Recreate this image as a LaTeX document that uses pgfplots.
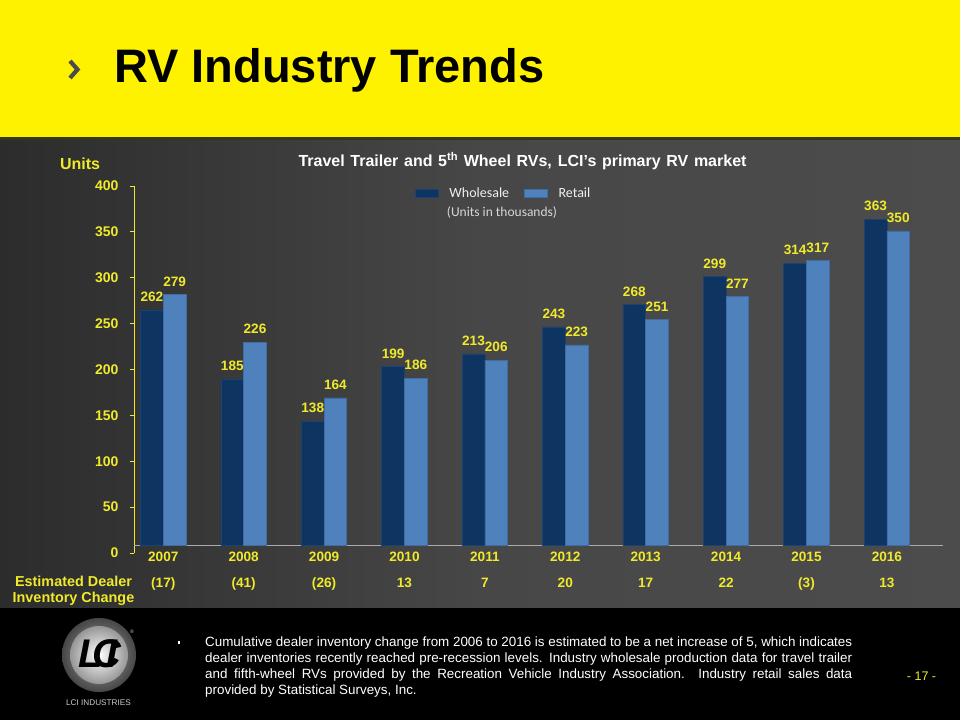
\documentclass[border=0pt]{standalone}
\usepackage{fontspec}
\setmainfont{Liberation Sans}
\newfontfamily\carlito{Carlito}
\usepackage{pgfplots}
\pgfplotsset{compat=1.18}
\definecolor{band}{HTML}{FFF200}
\definecolor{bandline}{RGB}{55,55,30}
\definecolor{lab}{HTML}{F0EA2A}
\definecolor{whole}{HTML}{0E3462}
\definecolor{wholeB}{HTML}{1B4273}
\definecolor{retail}{HTML}{4F81BD}
\definecolor{retailB}{HTML}{3E6DA6}
\definecolor{bgA}{HTML}{2C2C2C}
\definecolor{bgM}{HTML}{474747}
\definecolor{bgB}{HTML}{4C4C4C}
\definecolor{chev}{RGB}{75,75,75}
\definecolor{subt}{RGB}{215,215,215}
\definecolor{axgray}{RGB}{170,170,170}
\definecolor{legtext}{RGB}{240,240,240}
\definecolor{logoA}{RGB}{70,70,70}
\definecolor{logoB}{RGB}{170,170,170}
\definecolor{logoC}{RGB}{150,150,150}
\definecolor{logoT}{RGB}{205,205,205}
\pgfplotsset{myleg/.style={legend image code/.code={\fill[##1] (0pt,-4pt) rectangle (22.7pt,4pt);}}}
\begin{document}
\begin{tikzpicture}
\begin{scope}[x=1pt,y=1pt]
% backgrounds
\fill[black] (0,0) rectangle (960,720);
\shade[left color=bgA, right color=bgB, middle color=bgM] (0,113) rectangle (960,580);
\fill[bandline] (0,580) rectangle (960,583);
\fill[band] (0,583) rectangle (960,720);
% title
\draw[line width=4.2pt, color=chev, line join=miter] (70,659) -- (77.5,650.5) -- (70,642);
\node[anchor=base west, inner sep=0pt, font=\fontsize{47}{47}\selectfont\bfseries] at (114,637) {RV Industry Trends};
% chart title
\node[anchor=base, inner sep=0pt, text=white, font=\fontsize{16}{16}\selectfont\bfseries] at (522.5,553) {\makebox[448pt][s]{Travel Trailer and 5\textsuperscript{th} Wheel RVs, LCI’s primary RV market}};
\node[anchor=base, inner sep=0pt, text=lab, font=\fontsize{16}{16}\selectfont\bfseries] at (80,550) {Units};
\node[anchor=center, inner sep=0pt, text=subt, font=\fontsize{13.5}{13.5}\selectfont\carlito] at (502,507) {(Units in thousands)};
\node[anchor=north, align=center, inner sep=0pt, text=lab, font=\fontsize{14.4}{16}\selectfont\bfseries] at (73.5,144) {Estimated Dealer\\Inventory Change};
% footer
\fill[white] (177.5,76.5) rectangle (180,79);
\node[anchor=north west, inner sep=0pt, text width=647pt, align=justify, text=white, font=\fontsize{13.4}{16}\selectfont] at (205,83)
 {\tolerance=10000\hyphenpenalty=10000 Cumulative dealer inventory change from 2006 to 2016 is estimated to be a net increase of 5, which indicates\linebreak
 dealer inventories recently reached pre-recession levels. Industry wholesale production data for travel trailer\linebreak
 and fifth-wheel RVs provided by the Recreation Vehicle Industry Association. Industry retail sales data\linebreak
 provided by Statistical Surveys, Inc.};
\node[anchor=base, inner sep=0pt, text=lab, font=\fontsize{12.5}{12.5}\selectfont] at (921.5,39.3) {- 17 -};
% logo
\shade[outer color=logoA, inner color=logoB] (99,65) circle (37);
\shade[inner color=white, outer color=logoC] (99,65) circle (29);
\node[inner sep=0pt, font=\fontsize{40}{40}\selectfont\bfseries\itshape] at (98,66) {L\kern-11pt C\kern-15pt I};
\node[inner sep=0pt, text=logoT, font=\fontsize{5}{5}\selectfont] at (132,88) {®};
\node[anchor=base, inner sep=0pt, text=logoT, font=\fontsize{8.2}{8.2}\selectfont] at (98.5,15) {LCI INDUSTRIES};
\end{scope}
% y axis
\begin{axis}[at={(134pt,167pt)}, anchor=south west, scale only axis, width=809pt, height=367pt,
  xmin=0, xmax=1, ymin=0, ymax=400, axis y line*=left, axis x line=none,
  ytick={0,50,...,400}, xtick=\empty, tick align=outside, major tick length=4pt,
  y axis line style={draw=lab, line width=0.8pt, -},
  every tick/.style={draw=lab, line width=0.8pt},
  yticklabel style={text=lab, font=\fontsize{14}{14}\selectfont\bfseries, xshift=-8pt},
  /pgf/number format/assume math mode=true]
\end{axis}
% bars
\begin{axis}[at={(134pt,175pt)}, anchor=south west, scale only axis, width=809pt, height=359pt,
  xmin=-0.364, xmax=9.698, ymin=0, ymax=400,
  axis x line*=bottom, axis y line=none, ytick=\empty,
  x axis line style={draw=axgray, line width=0.8pt, -},
  xtick={0,...,9}, major tick length=0pt,
  xticklabels={{2007\\(17)},{2008\\(41)},{2009\\(26)},{2010\\13},{2011\\7},{2012\\20},{2013\\17},{2014\\22},{2015\\(3)},{2016\\13}},
  xticklabel style={align=center, text=lab, font=\fontsize{13.6}{26}\selectfont\bfseries, yshift=-3.5pt},
  ybar=0pt, bar width=22.7pt,
  nodes near coords,
  nodes near coords style={text=lab, font=\fontsize{13.6}{13.6}\selectfont\bfseries, yshift=4.5pt},
  /pgf/number format/assume math mode=true,
  legend columns=2,
  legend style={at={(0.3473,0.9805)}, anchor=west, draw=none, fill=none, inner sep=0pt,
    font=\fontsize{14}{14}\selectfont\carlito, text=legtext,
    /tikz/every odd column/.append style={column sep=9pt},
    /tikz/every even column/.append style={column sep=13pt}},
  ]
\addplot[fill=whole, draw=wholeB, line width=0.6pt, myleg] coordinates {(0,262) (1,185) (2,138) (3,199) (4,213) (5,243) (6,268) (7,299) (8,314) (9,363)};
\addplot[fill=retail, draw=retailB, line width=0.6pt, myleg] coordinates {(0,279) (1,226) (2,164) (3,186) (4,206) (5,223) (6,251) (7,277) (8,317) (9,350)};
\legend{Wholesale, Retail}
\end{axis}
\end{tikzpicture}
\end{document}
